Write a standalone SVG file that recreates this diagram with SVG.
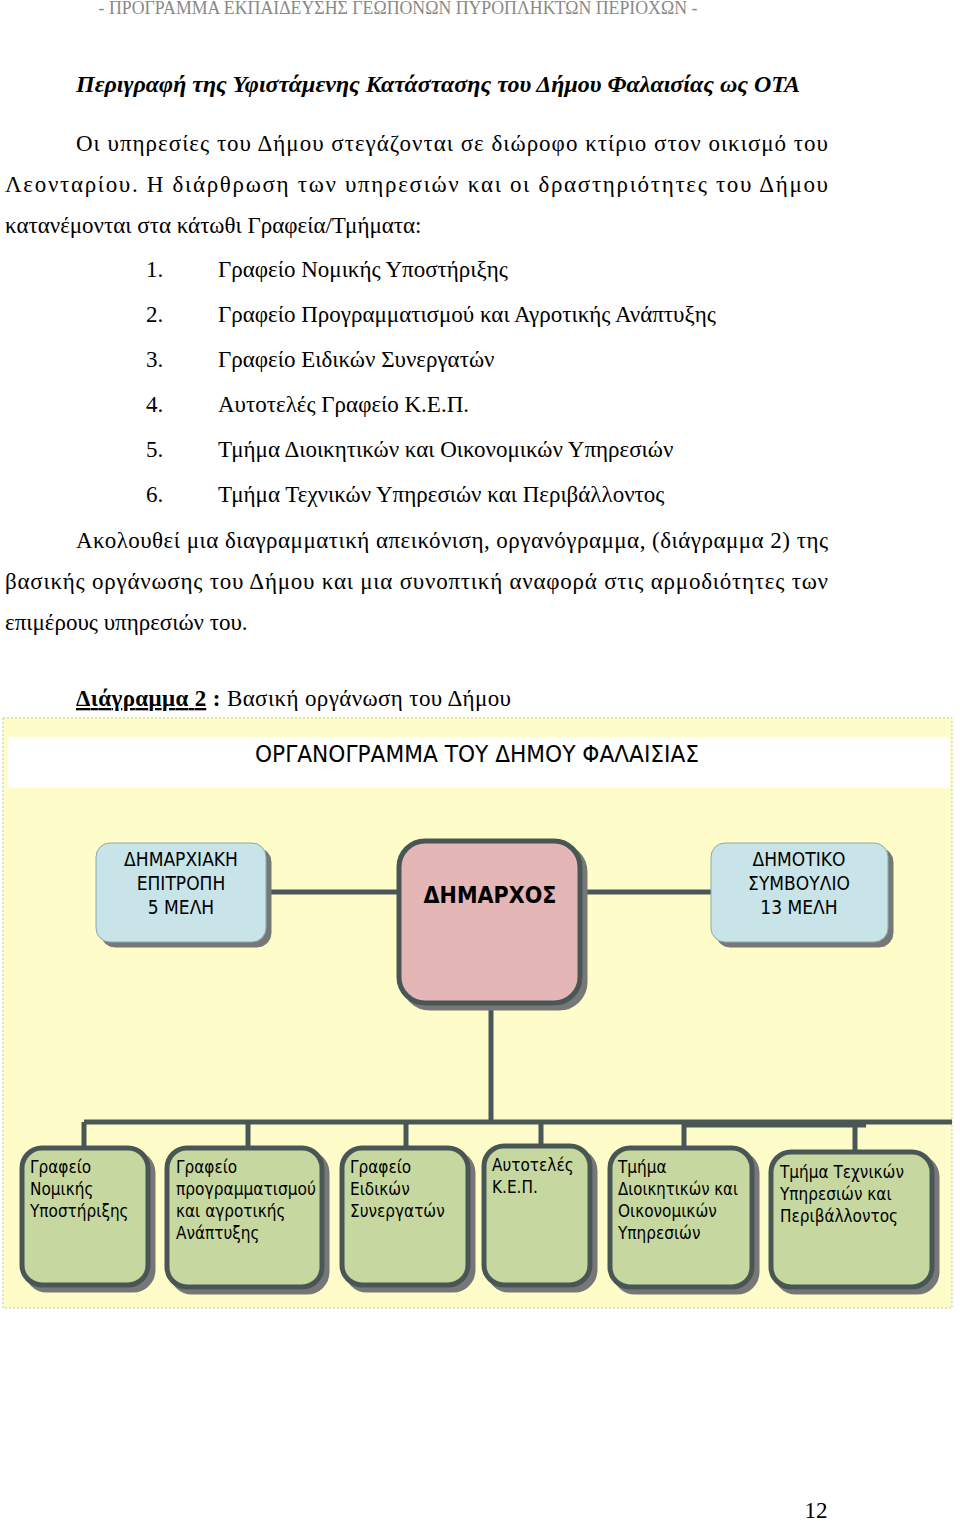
<svg xmlns="http://www.w3.org/2000/svg" width="960" height="1522" viewBox="0 0 960 1522">
<defs>
<filter id="sh" x="-10%" y="-10%" width="130%" height="130%"><feDropShadow dx="5" dy="5" stdDeviation="0.5" flood-color="#777" flood-opacity="1"/></filter>
</defs>
<style>
.t{font-family:"Liberation Serif","Times New Roman",serif;font-size:23px;fill:#000}
.d{font-family:"DejaVu Sans Condensed","DejaVu Sans",sans-serif;fill:#000}
.g{fill:#c6d8a0;stroke:#4a5757;stroke-width:5}
.p{fill:#e4b6b6;stroke:#4a5757;stroke-width:5}
.b{fill:#c8e4e8;stroke:#8aa;stroke-width:1}
.c{stroke:#4a5757;stroke-width:5;fill:none}
.s{font-size:17px}
</style>
<rect width="960" height="1522" fill="#fff"/>
<text x="398" y="14" text-anchor="middle" font-family="Liberation Serif,serif" font-size="17.8" fill="#888">- ΠΡΟΓΡΑΜΜΑ ΕΚΠΑΙΔΕΥΣΗΣ ΓΕΩΠΟΝΩΝ ΠΥΡΟΠΛΗΚΤΩΝ ΠΕΡΙΟΧΩΝ -</text>
<text class="t" x="76" y="92" font-style="italic" font-weight="bold" textLength="724" lengthAdjust="spacingAndGlyphs">Περιγραφή της Υφιστάμενης Κατάστασης του Δήμου Φαλαισίας ως ΟΤΑ</text>
<text class="t" x="76" y="151" textLength="752" lengthAdjust="spacing">Οι υπηρεσίες του Δήμου στεγάζονται σε διώροφο κτίριο στον οικισμό του</text>
<text class="t" x="5" y="192" textLength="823" lengthAdjust="spacing">Λεονταρίου. Η διάρθρωση των υπηρεσιών και οι δραστηριότητες του Δήμου</text>
<text class="t" x="5" y="233">κατανέμονται στα κάτωθι Γραφεία/Τμήματα:</text>
<text class="t" x="146" y="277">1.</text><text class="t" x="218" y="277">Γραφείο Νομικής Υποστήριξης</text>
<text class="t" x="146" y="322">2.</text><text class="t" x="218" y="322">Γραφείο Προγραμματισμού και Αγροτικής Ανάπτυξης</text>
<text class="t" x="146" y="367">3.</text><text class="t" x="218" y="367">Γραφείο Ειδικών Συνεργατών</text>
<text class="t" x="146" y="412">4.</text><text class="t" x="218" y="412">Αυτοτελές Γραφείο Κ.Ε.Π.</text>
<text class="t" x="146" y="457">5.</text><text class="t" x="218" y="457">Τμήμα Διοικητικών και Οικονομικών Υπηρεσιών</text>
<text class="t" x="146" y="502">6.</text><text class="t" x="218" y="502">Τμήμα Τεχνικών Υπηρεσιών και Περιβάλλοντος</text>
<text class="t" x="76" y="548" textLength="752" lengthAdjust="spacing">Ακολουθεί μια διαγραμματική απεικόνιση, οργανόγραμμα, (διάγραμμα 2) της</text>
<text class="t" x="5" y="589" textLength="823" lengthAdjust="spacing">βασικής οργάνωσης του Δήμου και μια συνοπτική αναφορά στις αρμοδιότητες των</text>
<text class="t" x="5" y="630">επιμέρους υπηρεσιών του.</text>
<text class="t" x="76" y="706" textLength="435" lengthAdjust="spacing"><tspan font-weight="bold" text-decoration="underline">Διάγραμμα 2</tspan><tspan font-weight="bold"> :</tspan> Βασική οργάνωση του Δήμου</text>

<rect x="3" y="718" width="949" height="590" fill="#fefcc8" stroke="#c8c890" stroke-width="1" stroke-dasharray="2,2"/>
<rect x="8" y="737" width="942" height="51" fill="#fff"/>
<text class="d" x="477" y="762" text-anchor="middle" font-size="23" textLength="444" lengthAdjust="spacingAndGlyphs">ΟΡΓΑΝΟΓΡΑΜΜΑ ΤΟΥ ΔΗΜΟΥ ΦΑΛΑΙΣΙΑΣ</text>

<g id="connectors" class="c">
<line x1="266" y1="892" x2="399" y2="892"/>
<line x1="580" y1="892" x2="711" y2="892"/>
<line x1="491" y1="1003" x2="491" y2="1122"/>
<line x1="84" y1="1122" x2="952" y2="1122"/>
<line x1="684" y1="1125" x2="866" y2="1125"/>
<line x1="84" y1="1122" x2="84" y2="1148"/>
<line x1="248" y1="1122" x2="248" y2="1148"/>
<line x1="406" y1="1122" x2="406" y2="1148"/>
<line x1="541" y1="1122" x2="541" y2="1146"/>
<line x1="684" y1="1122" x2="684" y2="1148"/>
<line x1="855" y1="1122" x2="855" y2="1152"/>
</g>

<g id="n-epitropi"><rect class="b" x="96" y="843" width="170" height="99" rx="14" filter="url(#sh)"/>
<text class="d" x="181" y="866" text-anchor="middle" font-size="19">ΔΗΜΑΡΧΙΑΚΗ</text>
<text class="d" x="181" y="890" text-anchor="middle" font-size="19">ΕΠΙΤΡΟΠΗ</text>
<text class="d" x="181" y="914" text-anchor="middle" font-size="19">5  ΜΕΛΗ</text></g>
<g id="n-dimarxos"><rect class="p" x="399" y="841" width="181" height="162" rx="26" filter="url(#sh)"/>
<text class="d" x="490" y="903" text-anchor="middle" font-size="23" font-weight="bold">ΔΗΜΑΡΧΟΣ</text></g>
<g id="n-symvoulio"><rect class="b" x="711" y="843" width="177" height="99" rx="14" filter="url(#sh)"/>
<text class="d" x="799" y="866" text-anchor="middle" font-size="19">ΔΗΜΟΤΙΚΟ</text>
<text class="d" x="799" y="890" text-anchor="middle" font-size="19">ΣΥΜΒΟΥΛΙΟ</text>
<text class="d" x="799" y="914" text-anchor="middle" font-size="19">13 ΜΕΛΗ</text></g>

<g id="n1"><rect class="g" x="22" y="1148" width="126" height="137" rx="20" filter="url(#sh)"/>
<text class="d s" x="30" y="1173">Γραφείο</text><text class="d s" x="30" y="1195">Νομικής</text><text class="d s" x="30" y="1217">Υποστήριξης</text></g>
<g id="n2"><rect class="g" x="167" y="1148" width="155" height="139" rx="20" filter="url(#sh)"/>
<text class="d s" x="176" y="1173">Γραφείο</text><text class="d s" x="176" y="1195" textLength="140" lengthAdjust="spacingAndGlyphs">προγραμματισμού</text><text class="d s" x="176" y="1217">και αγροτικής</text><text class="d s" x="176" y="1239">Ανάπτυξης</text></g>
<g id="n3"><rect class="g" x="342" y="1148" width="126" height="137" rx="20" filter="url(#sh)"/>
<text class="d s" x="350" y="1173">Γραφείο</text><text class="d s" x="350" y="1195">Ειδικών</text><text class="d s" x="350" y="1217">Συνεργατών</text></g>
<g id="n4"><rect class="g" x="484" y="1146" width="106" height="139" rx="20" filter="url(#sh)"/>
<text class="d s" x="492" y="1171">Αυτοτελές</text><text class="d s" x="492" y="1193">Κ.Ε.Π.</text></g>
<g id="n5"><rect class="g" x="610" y="1148" width="142" height="139" rx="20" filter="url(#sh)"/>
<text class="d s" x="618" y="1173">Τμήμα</text><text class="d s" x="618" y="1195" textLength="120" lengthAdjust="spacingAndGlyphs">Διοικητικών και</text><text class="d s" x="618" y="1217">Οικονομικών</text><text class="d s" x="618" y="1239">Υπηρεσιών</text></g>
<g id="n6"><rect class="g" x="771" y="1152" width="161" height="135" rx="20" filter="url(#sh)"/>
<text class="d s" x="780" y="1178">Τμήμα Τεχνικών</text><text class="d s" x="780" y="1200">Υπηρεσιών και</text><text class="d s" x="780" y="1222">Περιβάλλοντος</text></g>

<text class="t" x="816" y="1518" text-anchor="middle">12</text>
</svg>
